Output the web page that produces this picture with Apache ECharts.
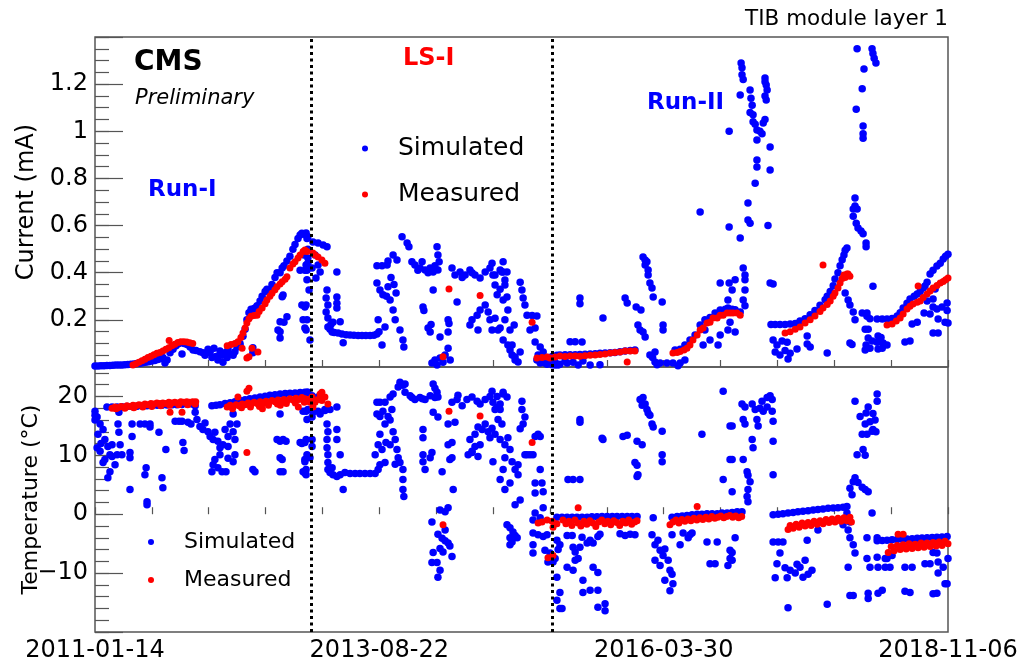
<!DOCTYPE html>
<html><head><meta charset="utf-8">
<script src="https://cdn.jsdelivr.net/npm/echarts@6/dist/echarts.min.js"></script>
<style>html,body{margin:0;padding:0;background:#fff}#chart{width:1028px;height:663px}</style>
</head><body><div id="chart"></div>
<script>
// x values are days since START_DATE
const START_DATE = '2011-01-14';
const xTickLabels = ['2011-01-14','2013-08-22','2016-03-30','2018-11-06'];
const xSpanDays = 2853;
const lsBoundaries = [722, 1528];

const simCurrent = [
[0,0.004],[10,0.004],[20,0.005],[30,0.005],[40,0.006],[50,0.006],[60,0.007],[70,0.008],[80,0.008],[90,0.009],[100,0.01],[110,0.011],[120,0.012],[130,0.013],[140,0.015],[150,0.016],[160,0.018],[170,0.02],[180,0.022],[190,0.025],[200,0.028],[210,0.032],
[217,0.035],[227,0.04],[234,0.017],[241,0.03],[251,0.06],[261,0.075],[271,0.09],[281,0.1],[291,0.055],[298,0.1],[308,0.095],[318,0.085],
[328,0.072],[338,0.07],[351,0.065],[361,0.06],[368,0.05],[378,0.075],[385,0.06],[391,0.04],[398,0.08],[405,0.045],[411,0.03],[418,0.068],[425,0.05],[428,0.02],[435,0.06],[442,0.04],[445,0.075],[452,0.055],[462,0.05],[468,0.065],[475,0.085],[485,0.09],[528,0.082],[528,0.06],
[485,0.1],[495,0.13],[502,0.16],[508,0.2],[515,0.23],[522,0.245],[528,0.245],[535,0.25],[542,0.26],[552,0.28],[559,0.3],[569,0.32],[575,0.33],[585,0.33],[592,0.35],[602,0.38],[609,0.4],[619,0.4],[626,0.42],[632,0.43],[642,0.45],[652,0.47],[662,0.5],[669,0.52],[679,0.545],[686,0.56],[692,0.567],[699,0.565],[706,0.56],[712,0.553],
[626,0.298],[629,0.305],[642,0.213],[619,0.192],[619,0.15],[619,0.123],[612,0.157],[632,0.19],[686,0.41],[692,0.263],[702,0.255],[696,0.2],[702,0.165],[712,0.462],[712,0.44],[699,0.475],[702,0.41],[709,0.37],
[706,0.568],[709,0.545],[712,0.5],[706,0.433],[709,0.41],[716,0.327],[706,0.263],[709,0.2],[706,0.157],[719,0.115],
[729,0.53],[746,0.526],[763,0.518],[776,0.51],[736,0.475],[746,0.433],[753,0.403],[726,0.42],[739,0.378],[809,0.403],
[776,0.327],[773,0.293],[779,0.263],[773,0.233],[779,0.208],[809,0.297],[809,0.27],[809,0.25],
[779,0.17],[786,0.16],[793,0.148],[800,0.146],[813,0.144],[826,0.14],[840,0.137],[853,0.136],[866,0.135],[880,0.134],[893,0.134],[906,0.134],[920,0.134],[933,0.135],[943,0.14],[950,0.15],[820,0.192],[830,0.103],[789,0.18],[796,0.19],
[943,0.43],[960,0.43],[977,0.433],[980,0.45],[997,0.475],[1010,0.454],[1027,0.553],[1044,0.526],[1050,0.51],
[943,0.356],[953,0.327],[963,0.306],[980,0.34],[987,0.284],[997,0.242],[1004,0.2],[1020,0.157],[1030,0.115],[1033,0.085],[970,0.17],[947,0.2],[960,0.093],[1007,0.314],[1000,0.35],[990,0.38],[975,0.3],
[1060,0.446],[1070,0.433],[1087,0.42],[1104,0.411],[1121,0.42],[1137,0.43],[1094,0.446],[1131,0.403],[1080,0.41],[1114,0.4],
[1144,0.51],[1147,0.475],[1151,0.446],[1147,0.411],[1131,0.327],[1097,0.255],[1100,0.24],[1114,0.165],[1121,0.148],[1124,0.18],[1154,0.127],
[1127,0.017],[1137,0.03],[1154,0.038],[1171,0.051],[1181,0.08],[1188,0.03],[1181,0.2],[1184,0.185],[1181,0.148],[1144,0.008],[1164,0.02],
[1194,0.42],[1211,0.276],
[1204,0.39],[1221,0.403],[1238,0.39],[1254,0.411],[1271,0.39],[1288,0.378],[1305,0.403],[1321,0.42],[1338,0.39],[1355,0.411],[1365,0.446],[1228,0.38],[1261,0.4],
[1328,0.44],[1331,0.39],[1365,0.403],[1378,0.403],
[1261,0.2],[1278,0.22],[1288,0.242],[1305,0.263],[1315,0.233],[1321,0.2],[1338,0.207],[1328,0.157],[1281,0.157],[1254,0.178],[1355,0.165],
[1338,0.348],[1345,0.306],[1355,0.33],[1371,0.348],[1378,0.297],
[1348,0.157],[1365,0.115],[1388,0.072],[1405,0.042],[1415,0.021],[1395,0.093],[1422,0.064],[1371,0.2],[1402,0.178],[1381,0.242],
[1361,0.403],[1371,0.369],[1365,0.284],[1388,0.157],[1381,0.093],[1395,0.051],[1405,0.03],
[1422,0.36],[1428,0.327],[1432,0.293],[1438,0.263],[1445,0.22],[1462,0.218],[1478,0.216],[1455,0.157],[1472,0.165],
[1472,0.106],[1489,0.085],[1499,0.064],[1482,0.051],
[1478,0.03],[1489,0.017],[1505,0.025],[1512,0.012],[1522,0.03],[1529,0.01],[1539,0.02],[1549,0.008],
[1499,0.02],[1515,0.04],[1529,0.045],[1545,0.05],[1555,0.051],[1572,0.052],[1589,0.052],[1606,0.052],[1622,0.053],[1639,0.054],[1656,0.055],[1673,0.056],[1689,0.058],[1706,0.059],[1723,0.06],[1739,0.062],[1756,0.065],[1773,0.068],[1790,0.07],[1806,0.072],
[1505,0.017],[1539,0.008],[1555,0.012],[1572,0.025],[1579,0.017],[1599,0.02],[1616,0.008],[1632,0.025],[1656,0.008],[1689,0.01],
[1589,0.107],[1606,0.107],[1629,0.106],[1622,0.293],[1622,0.268],[1699,0.208],[1773,0.293],[1780,0.272],[1810,0.255],[1826,0.242],
[1833,0.467],[1840,0.454],[1846,0.446],[1840,0.433],[1850,0.411],[1850,0.39],[1856,0.356],[1863,0.335],[1867,0.297],
[1897,0.276],[1900,0.178],[1900,0.157],[1816,0.178],[1823,0.157],[1833,0.148],[1840,0.127],
[1856,0.051],[1873,0.021],[1890,0.017],[1913,0.017],[1933,0.017],[1957,0.017],[1973,0.03],[1873,0.064],[1865,0.04],[1880,0.01],[1950,0.005],
[1940,0.072],[1957,0.075],[1973,0.093],[1990,0.115],[2007,0.136],[2024,0.178],[2040,0.2],[2057,0.21],[2074,0.229],[2091,0.242],[2108,0.245],[2117,0.25],[2131,0.245],[2141,0.243],[2158,0.233],
[2024,0.658],[2121,1.0],[2121,0.594],[2158,0.547],[2161,1.29],[2164,1.27],[2164,1.24],[2168,1.22],[2158,1.154],[2191,1.175],[2194,1.14],[2198,1.11],[2201,1.07],[2191,1.08],[2201,1.04],[2208,1.03],[2214,1.005],[2224,1.0],[2231,0.99],[2214,0.963],[2235,1.035],[2241,1.05],[2241,1.226],[2241,1.21],[2245,1.196],[2248,1.175],[2241,1.15],[2245,1.133],[2258,0.933],[2258,0.836],[2251,0.6],[2214,0.878],[2214,0.848],[2208,0.78],[2184,0.696],[2184,0.624],[2191,0.61],[2168,0.42],[2174,0.39],[2174,0.37],[2141,0.37],[2174,0.327],[2168,0.284],[2174,0.26],[2091,0.356],[2121,0.356],[2131,0.327],[2117,0.284],
[2040,0.157],[2057,0.115],[2084,0.093],[2117,0.157],[2124,0.19],[2141,0.148],[2034,0.093],[2091,0.136],[2258,0.356],
[2261,0.18],[2275,0.18],[2291,0.18],[2308,0.18],[2325,0.182],[2342,0.185],[2358,0.195],[2375,0.205],[2392,0.222],[2408,0.24],[2425,0.262],[2442,0.285],[2449,0.3],[2459,0.32],[2469,0.345],[2475,0.373],[2485,0.4],[2492,0.43],[2499,0.455],[2505,0.475],[2509,0.495],[2515,0.505],
[2268,0.352],[2268,0.115],[2281,0.093],[2298,0.11],[2315,0.105],[2275,0.064],[2291,0.051],[2308,0.07],[2325,0.058],[2318,0.034],[2348,0.076],[2382,0.132],[2382,0.098],[2392,0.085],[2449,0.059],
[2509,0.314],[2519,0.284],[2525,0.263],[2536,0.233],[2542,0.2],[2525,0.102],[2532,0.095],
[2549,1.35],[2599,1.35],[2602,1.33],[2606,1.31],[2612,1.29],[2572,1.264],[2566,1.18],[2546,1.094],[2569,1.022],[2569,0.99],[2569,0.97],
[2542,0.717],[2542,0.683],[2536,0.67],[2549,0.67],[2536,0.64],[2546,0.61],[2552,0.59],[2562,0.577],[2569,0.565],[2579,0.526],[2579,0.51],
[2602,0.343],[2582,0.229],[2582,0.215],[2592,0.205],[2576,0.16],[2586,0.16],[2586,0.123],[2592,0.08],[2619,0.132],[2619,0.076],[2629,0.125],[2636,0.102],
[2566,0.229],[2579,0.093],[2599,0.11],[2616,0.105],[2633,0.08],[2649,0.093],[2576,0.072],
[2616,0.204],[2633,0.204],[2649,0.204],[2666,0.206],[2683,0.216],[2693,0.23],[2703,0.25],[2716,0.27],[2726,0.288],[2740,0.3],[2750,0.31],[2760,0.32],[2770,0.335],[2783,0.36],[2793,0.395],[2803,0.41],[2816,0.428],[2827,0.44],[2837,0.458],[2845,0.47],[2853,0.478],
[2726,0.11],[2733,0.182],[2776,0.344],[2793,0.225],[2803,0.288],[2810,0.331],[2816,0.246],[2820,0.204],[2820,0.144],[2850,0.271],[2853,0.187],[2850,0.24],[2783,0.28],[2750,0.19],[2709,0.106],[2803,0.144],[2803,0.255],[2773,0.229],[2833,0.255],[2843,0.19]
];

const measCurrent = [
[127,0.008],[137,0.014],[147,0.02],[157,0.027],[167,0.033],[177,0.04],[187,0.046],[197,0.052],[207,0.058],[217,0.062],[227,0.068],[237,0.075],[247,0.082],[257,0.09],[267,0.097],[277,0.104],[287,0.107],[297,0.107],[307,0.106],[317,0.103],[327,0.1],[248,0.112],
[508,0.038],[525,0.08],[545,0.064],[515,0.044],[492,0.08],
[442,0.09],[455,0.095],[468,0.1],[478,0.107],[488,0.125],[495,0.144],[502,0.165],[508,0.187],[515,0.205],[522,0.215],[532,0.218],[542,0.22],[549,0.235],[559,0.25],[569,0.268],[575,0.284],[585,0.3],[592,0.313],[602,0.328],[609,0.34],[619,0.352],[626,0.362],[636,0.372],[642,0.383],[652,0.42],[662,0.437],[669,0.447],[679,0.462],[686,0.475],[696,0.49],[702,0.496],[709,0.49],
[729,0.484],[746,0.467],[759,0.454],[769,0.44],[736,0.475],
[1164,0.044],[1184,0.331],[1288,0.303],[1462,0.19],
[1478,0.038],[1495,0.04],[1512,0.042],[1522,0.038],[1539,0.042],[1555,0.047],[1572,0.045],[1589,0.047],[1606,0.047],[1622,0.046],[1639,0.048],[1656,0.05],[1673,0.051],[1689,0.053],[1706,0.055],[1723,0.059],[1739,0.062],[1756,0.064],[1773,0.068],[1790,0.068],[1806,0.068],[1780,0.021],
[1933,0.059],[1947,0.062],[1957,0.066],[1970,0.072],[1980,0.08],[1990,0.093],[2000,0.115],[2014,0.136],[2024,0.157],[2034,0.165],[2047,0.187],[2057,0.19],[2067,0.208],[2081,0.208],[2091,0.22],[2101,0.22],[2114,0.229],[2124,0.229],[2134,0.229],[2147,0.229],[2158,0.22],
[2308,0.144],[2325,0.15],[2342,0.16],[2358,0.17],[2375,0.187],[2392,0.2],[2408,0.216],[2425,0.235],[2435,0.25],[2449,0.265],[2459,0.28],[2469,0.3],[2475,0.314],[2485,0.335],[2492,0.356],[2499,0.375],[2505,0.39],[2515,0.395],[2519,0.395],[2525,0.385],[2509,0.38],
[2435,0.433],
[2649,0.178],[2666,0.182],[2680,0.195],[2693,0.208],[2703,0.225],[2716,0.246],[2726,0.258],[2736,0.267],[2750,0.275],[2760,0.28],[2770,0.295],[2783,0.31],[2793,0.322],[2803,0.335],[2816,0.346],[2827,0.356],[2837,0.363],[2845,0.37],[2853,0.378],
[2753,0.344]
];

const simTemp = [
[40,18.2],[57,18.2],[74,18.2],[90,18.25],[107,18.3],[124,18.3],[141,18.35],[158,18.4],[174,18.4],[191,18.45],[208,18.5],[224,18.5],[241,18.55],[258,18.6],[274,18.6],[291,18.65],[308,18.7],[325,18.7],[335,18.4],
[0,17.5],[0,16.8],[7,16.5],[17,15.3],[27,14.4],[10,13.6],[33,12.7],[43,11.5],[17,10.7],[50,10.1],[33,9.3],[57,9.8],[67,8.4],[50,7.2],[43,6.2],[27,8.8],[7,11.3],[57,11.8],[74,10.1],[0,16.0],[20,12],
[80,17.3],[77,15.3],[80,13.9],[84,11.8],[90,10.1],[124,15.3],[124,13.2],[117,10.5],[117,9.6],[117,4.2],[151,15.3],[167,15.3],[184,15.3],[184,14.8],[171,7.9],[167,6.7],[174,2.1],[174,1.6],[214,13.9],[224,6.2],[227,4.5],[237,11.0],[268,15.8],[281,15.8],[291,15.8],[294,12.2],[298,10.8],[311,15.6],[321,15.3],
[335,17.3],[341,16.1],[351,14.9],[361,14.4],[368,15.5],[378,14.0],[385,13.2],[395,12.7],[401,13.9],[411,12.4],[418,11.3],[428,11.8],[435,14.4],[445,13.2],[452,15.3],[418,10.1],[401,9.3],[411,7.9],[425,7.2],[438,7.2],[391,7.2],[395,8.4],[468,12.7],[468,10.1],[462,8.9],[445,9.5],
[462,17.0],[475,15.3],[462,14.0],[445,11.5],[528,7.6],[535,7.2],
[391,18.4],[405,18.5],[418,18.6],[435,18.8],[452,18.95],[468,19.1],[485,19.3],[502,19.45],[518,19.6],[535,19.75],[552,19.9],[569,20.05],[585,20.2],[602,20.3],[619,20.4],[636,20.5],[652,20.55],[669,20.6],[686,20.65],[702,20.7],[712,20.7],
[619,17.0],[619,12.4],[619,9.6],[619,7.2],[639,12.4],[686,12.2],[692,12.0],[696,7.2],[702,7.0],[696,17.5],[609,12.7],[629,12.7],[626,9.3],[629,7.2],[702,12.2],[702,9.3],
[706,17.5],[709,16.1],[706,12.7],[709,10.1],[702,8.9],[706,7.6],[706,6.7],
[709,20.7],[726,20.1],[746,19.9],[769,17.8],[746,17.5],[729,17.3],[753,17.0],[769,17.6],[786,17.8],[712,17.8],[726,16.5],
[726,12.7],[726,11.5],[719,9.6],[809,18.2],[776,15.3],[779,14.0],[776,12.7],[776,11.3],[779,10.1],[809,14.4],[809,12.7],[779,8.8],[820,10.1],
[779,7.6],[786,7.1],[796,6.7],[809,6.4],[820,6.7],[836,7.1],[853,6.9],[870,6.9],[886,6.9],[903,6.9],[920,6.9],[937,6.9],[947,7.6],[793,7.9],[830,4.2],
[943,19.0],[953,19.0],[970,19.0],[987,19.9],[997,20.4],[1014,21.6],[1020,22.4],[1037,22.1],[1030,21.9],[1037,20.7],[1054,20.1],[1070,19.5],[1087,19.8],[1104,19.5],[1121,20.1],[1137,19.8],[1095,19.6],[1060,19.8],
[943,17.0],[953,16.6],[963,17.5],[970,15.3],[980,16.6],[987,16.0],[993,17.8],[953,13.6],[947,11.8],[960,11.0],[973,12.2],[987,11.8],[997,14.0],[1004,12.7],[1010,11.0],[1014,9.6],[1020,8.8],[1030,7.6],[1030,5.9],[1030,4.2],[1033,3.0],[937,10.1],[953,8.4],[970,8.8],[1004,8.5],
[1097,14.4],[1097,13.0],[1097,10.1],[1097,8.9],[1104,7.6],
[1131,22.1],[1137,21.4],[1144,20.7],[1147,19.9],[1131,17.3],[1147,16.5],[1127,10.5],[1121,9.6],[1161,7.2],
[1127,-1.3],[1154,0.7],[1171,0.4],[1181,1.1],[1147,-3.4],[1161,-4.1],[1171,-4.5],[1181,-4.9],[1187,-5.4],[1154,-5.8],[1164,-6.4],[1194,-7.2],[1171,-2.7],[1127,-8.2],[1144,-8.2],[1154,-9.5],[1147,-10.7],[1131,-6.5],
[1181,11.8],[1187,9.3],[1194,12.2],[1181,15.3],[1204,15.6],[1198,4.2],[1194,9.6],
[1194,19.0],[1211,19.5],[1228,18.4],[1244,19.5],[1261,19.9],[1278,19.2],[1288,18.7],[1305,19.5],[1321,20.0],[1331,19.0],[1345,18.2],[1355,17.8],[1365,20.4],[1214,20.2],
[1254,12.7],[1271,13.6],[1281,14.8],[1295,14.4],[1305,15.3],[1315,14.0],[1321,13.0],[1288,11.8],[1271,11.5],[1261,10.7],[1248,10.1],[1338,13.6],[1328,14.6],
[1261,10.5],[1281,9.8],[1331,8.9],
[1328,20.9],[1345,20.0],[1355,18.7],[1338,17.8],[1348,16.1],[1361,15.3],[1378,19.9],[1365,20.7],
[1355,12.7],[1371,11.8],[1381,13.0],[1388,11.0],[1371,9.6],[1395,8.9],[1405,7.6],[1415,6.7],[1365,7.6],[1355,5.9],[1371,4.2],[1388,5.3],[1415,8.4],[1422,2.4],[1405,1.6],
[1378,-1.8],[1388,-2.3],[1398,-3.0],[1405,-3.6],[1388,-4.0],[1395,-4.7],[1412,-4.0],[1388,-5.2],
[1428,19.2],[1428,17.8],[1438,16.5],[1432,15.3],[1422,14.5],[1438,10.1],[1472,13.2],[1482,13.6],[1489,13.2],[1445,10.1],[1455,10.1],[1465,10.1],[1489,7.6],[1472,5.3],[1472,3.6],[1495,5.3],[1499,3.8],[1499,1.1],[1472,0.2],[1465,-1.0],[1489,-0.6],
[1465,-3.2],[1482,-3.5],[1499,-3.8],[1512,-3.5],[1465,-5.2],[1465,-6.6],
[1505,-6.1],[1522,-6.6],[1539,-7.5],[1549,-6.0],[1515,-8.1],[1532,-8.1],[1555,-5.2],[1545,-4.4],
[1545,-10.7],[1555,-13.3],[1545,-14.6],[1555,-16.0],[1562,-16.0],[1579,-9.0],[1599,-9.5],[1606,-7.8],[1632,-11.2],[1632,-13.3],[1656,-12.9],[1666,-9.0],[1682,-9.9],[1682,-12.9],[1682,-15.8],[1706,-16.4],[1706,-15.2],
[1579,-3.6],[1596,-3.6],[1599,-5.6],[1622,-5.6],[1629,-3.9],[1646,-4.9],[1656,-4.4],[1666,-4.9],[1682,-3.8],[1689,-3.4],[1616,-7.5],[1606,-6.4],
[1582,5.9],[1599,5.9],[1622,5.9],[1622,16.1],[1622,15.6],[1696,12.9],[1699,12.7],
[1545,-0.5],[1562,-0.5],[1579,-0.5],[1596,-0.5],[1612,-0.5],[1629,-0.5],[1646,-0.5],[1662,-0.45],[1679,-0.45],[1696,-0.4],[1713,-0.4],[1730,-0.4],[1746,-0.4],[1763,-0.4],[1780,-0.4],[1796,-0.4],[1813,-0.4],
[1756,-3.3],[1773,-3.6],[1790,-3.4],[1806,-3.5],[1766,13.2],[1780,13.4],[1813,12.4],[1830,11.8],[1806,8.8],[1813,8.3],[1816,6.7],[1813,6.4],
[1823,19.5],[1833,19.8],[1840,18.7],[1846,17.8],[1856,16.8],[1863,15.3],[1867,14.8],[1850,17.2],[1830,18.5],
[1897,14.1],[1897,10.1],[1897,8.9],[1867,-0.6],
[1863,-3.5],[1873,-5.2],[1883,-4.4],[1890,-6.1],[1900,-7.0],[1906,-5.9],[1917,-7.8],[1923,-9.5],[1930,-10.2],[1890,-8.7],[1873,-7.8],[1906,-11.2],[1923,-13.0],[1933,-11.8],[1930,-3.5],
[1930,-0.5],[1947,-0.4],[1964,-0.3],[1980,-0.2],[1997,-0.1],[2014,0.0],[2030,0.0],[2047,0.1],[2064,0.1],[2081,0.1],[2097,0.2],[2114,0.2],[2131,0.3],[2148,0.4],[2164,0.4],
[1967,-3.2],[1984,-4.0],[1997,-3.2],[1957,-5.2],[1990,-3.5],[2047,-4.7],[2081,-4.7],[2057,-8.4],[2074,-8.4],[2117,-8.7],[2124,-6.1],[2124,-7.5],
[2030,13.6],[2101,20.9],[2124,15.0],[2124,9.3],[2101,5.9],[2131,3.8],
[2131,15.0],[2131,9.3],[2141,-4.0],[2131,-6.5],[2131,-7.8],
[2164,18.7],[2174,18.2],[2168,16.1],[2174,15.3],[2168,9.3],[2181,7.2],[2184,6.6],[2191,5.5],[2184,4.2],[2181,3.0],[2184,2.1],[2198,12.7],[2201,11.3],[2198,18.7],[2208,17.8],[2214,16.1],[2218,15.0],[2224,18.0],[2235,17.5],[2248,18.2],[2231,19.2],[2248,19.8],[2258,20.1],[2265,19.5],[2265,17.5],[2268,15.8],[2268,12.4],[2268,6.7],
[2268,-0.1],[2285,0.0],[2301,0.1],[2318,0.2],[2335,0.3],[2351,0.4],[2368,0.5],[2385,0.6],[2402,0.7],[2418,0.8],[2435,0.9],[2452,1.0],[2469,1.05],[2485,1.1],[2502,1.2],[2515,1.3],
[2268,-4.7],[2285,-4.7],[2301,-4.7],[2291,-6.6],[2281,-8.4],[2275,-10.8],[2315,-10.8],[2308,-9.1],[2325,-9.5],[2342,-10.0],[2358,-9.0],[2368,-10.7],[2385,-10.2],[2398,-9.5],[2348,-8.5],[2375,-7.8],[2318,-15.9],[2382,-4.4],[2418,-2.7],[2449,-15.3],
[2502,-1.8],[2515,0.2],[2519,-0.5],[2525,-1.3],[2519,-2.7],[2525,-4.0],[2536,-5.2],[2542,-6.6],[2519,-9.0],[2525,-13.8],[2536,-13.8],
[2525,4.4],[2536,5.5],[2542,6.2],[2552,5.4],[2566,4.6],[2576,4.2],[2586,3.8],[2532,3.3],
[2542,19.2],[2559,16.6],[2566,13.6],[2549,10.1],[2569,11.0],[2576,10.0],[2582,13.6],[2576,15.3],[2586,18.2],[2579,17.2],[2592,15.7],[2599,14.1],[2602,14.4],[2609,16.0],[2602,17.1],[2616,19.2],[2616,20.4],[2612,14.0],
[2582,-4.0],[2599,0.2],[2582,-7.5],[2592,-9.0],[2586,-13.4],[2586,-14.3],[2616,-4.0],[2616,-7.3],[2619,-13.4],[2633,-12.9],[2619,-9.0],[2643,-9.0],[2659,-9.0],[2643,-7.5],[2649,-7.5],
[2616,-4.5],[2633,-4.45],[2649,-4.4],[2666,-4.35],[2683,-4.3],[2700,-4.25],[2716,-4.2],[2733,-4.15],[2750,-4.1],[2766,-4.05],[2783,-4.0],[2800,-3.95],[2816,-3.9],[2833,-3.85],[2850,-3.8],
[2666,-7.0],[2733,-9.0],[2726,-13.3],[2793,-8.4],[2816,-6.6],[2820,-8.1],[2820,-10.0],[2816,-13.4],[2853,-7.5],[2850,-11.8],[2837,-9.0],[2709,-9.0],[2709,-13.1],[2776,-8.4],[2803,-6.5],[2803,-13.5],[2843,-11.8]
];

const measTemp = [
[57,18.0],[67,18.2],[77,18.1],[87,18.3],[97,18.2],[107,18.4],[117,18.3],[127,18.5],[137,18.4],[147,18.6],[157,18.5],[167,18.7],[177,18.6],[187,18.8],[197,18.7],[207,18.9],[217,18.8],[227,18.9],[237,18.8],[247,19.0],[257,18.9],[267,19.0],[277,18.9],[287,19.1],[297,19.0],[307,19.1],[317,19.0],[327,19.1],[337,19.1],
[70,17.9],[100,18.0],[130,18.1],[160,18.2],[190,18.3],[220,18.4],[250,18.5],[280,18.6],[310,18.6],[335,18.7],
[251,17.3],[291,17.3],
[442,18.2],[452,18.5],[462,18.3],[472,18.6],[482,18.4],[492,18.7],[502,18.6],[512,18.9],[522,18.7],[532,19.0],[542,18.8],[552,19.1],[562,18.9],[572,19.2],[582,19.0],[592,19.3],[602,19.1],[612,19.4],[622,19.2],[632,19.5],[642,19.3],[652,19.6],[662,19.4],[672,19.7],[682,19.5],[692,19.8],[702,19.6],[712,19.5],
[460,17.9],[490,18.1],[520,18.2],[550,18.3],[580,18.5],[610,18.7],[640,18.8],[670,18.9],[700,19.0],[680,18.2],[620,18.5],[560,17.9],
[478,19.9],[508,20.9],[515,21.4],[508,10.5],
[719,19.0],[726,19.9],[736,19.0],[746,19.5],[753,20.4],[759,19.3],[769,19.9],[779,18.7],[729,18.2],[759,20.7],
[1184,17.5],[1288,16.7],[1164,-1.8],[1462,12.2],
[1482,-1.5],[1495,-1.3],[1512,-1.0],[1529,-1.2],[1545,-1.6],[1515,-7.4],[1532,-7.0],[1532,-2.2],
[1565,-1.0],[1575,-1.6],[1585,-1.2],[1595,-1.9],[1605,-1.0],[1615,-1.5],[1625,-2.0],[1635,-1.2],[1645,-1.7],[1655,-1.1],[1665,-1.5],[1675,-2.1],[1685,-1.3],[1695,-1.0],[1705,-1.6],[1715,-1.2],[1725,-1.8],[1735,-1.1],[1745,-1.4],[1755,-1.9],[1765,-1.2],[1775,-1.5],[1785,-1.0],[1795,-1.7],[1805,-1.3],[1813,-1.1],
[1616,1.1],
[1923,-1.8],[1933,-1.3],[1943,-1.0],[1953,-1.5],[1963,-0.9],[1973,-1.2],[1983,-0.8],[1993,-1.1],[2003,-0.7],[2013,-1.0],[2023,-0.6],[2033,-0.9],[2043,-0.5],[2053,-0.8],[2063,-0.4],[2073,-0.7],[2083,-0.5],[2093,-0.3],[2103,-0.6],[2113,-0.4],[2123,-0.2],[2133,-0.5],[2143,-0.3],[2153,-0.6],[2163,-0.4],
[2014,1.3],
[2318,-2.6],[2325,-1.9],[2335,-2.4],[2345,-1.7],[2355,-2.2],[2365,-1.5],[2375,-2.0],[2385,-1.4],[2395,-1.9],[2405,-1.2],[2415,-1.7],[2425,-1.1],[2435,-1.6],[2445,-0.9],[2455,-1.4],[2465,-0.8],[2475,-1.3],[2485,-0.7],[2495,-1.2],[2505,-0.6],[2515,-1.1],[2525,-0.5],[2530,-1.3],
[2653,-6.5],[2663,-5.5],[2673,-6.2],[2683,-5.3],[2693,-6.0],[2703,-5.2],[2713,-5.9],[2723,-5.0],[2733,-5.8],[2743,-5.1],[2753,-5.7],[2763,-4.9],[2773,-5.6],[2783,-4.9],[2793,-5.5],[2803,-4.8],[2813,-5.4],[2823,-4.7],[2833,-5.3],[2843,-4.6],[2853,-5.0],
[2686,-3.4],[2703,-3.4]
];

const FONT = 'DejaVu Sans';
const AX = '#555';
const BLUE = '#0000ff', RED = '#ff0000';
const xStep = xSpanDays / 15;

function xLabel(v) {
  const i = Math.round(v / xStep);
  if (Math.abs(v - i * xStep) > 1 || i % 5 !== 0) return '';
  return xTickLabels[i / 5] || '';
}
function xAxisDef(grid, labels) {
  return {
    type: 'value', gridIndex: grid, min: 0, max: xSpanDays, interval: xStep,
    axisLine: { show: false }, splitLine: { show: false },
    axisTick: { inside: true, length: 7, lineStyle: { color: AX, width: 1.2 } },
    axisLabel: { show: labels, formatter: xLabel, margin: 7, color: '#000', fontFamily: FONT, fontSize: 24, showMinLabel: true, showMaxLabel: true }
  };
}
function fmtNum(v) {
  const r = parseFloat(v.toFixed(2));
  return r < 0 ? '\u2212' + Math.abs(r) : String(r);
}
const lsLine = {
  silent: true, symbol: 'none', label: { show: false }, animation: false,
  lineStyle: { color: '#000', width: 3, type: [3, 3.5] },
  data: lsBoundaries.map(d => ({ xAxis: d }))
};

const option = {
  animation: false,
  grid: [
    { left: 95, right: 80, top: 37, height: 330, show: true, borderColor: AX, borderWidth: 1.5, backgroundColor: 'transparent' },
    { left: 95, right: 80, top: 367, height: 265, show: true, borderColor: AX, borderWidth: 1.5, backgroundColor: 'transparent' }
  ],
  xAxis: [xAxisDef(0, false), xAxisDef(1, true)],
  yAxis: [
    { type: 'value', gridIndex: 0, position: 'left', min: 0, max: 1.4, interval: 0.2,
      name: 'Current (mA)', nameLocation: 'middle', nameGap: 56, nameMoveOverlap: false,
      nameTextStyle: { fontFamily: FONT, fontSize: 24, color: '#000' },
      axisLine: { show: false }, splitLine: { show: false },
      axisTick: { inside: true, length: 28, lineStyle: { color: AX, width: 1.2 } },
      axisLabel: { margin: 7, color: '#000', fontFamily: FONT, fontSize: 24,
        formatter: v => (v <= 0 || v >= 1.39) ? '' : fmtNum(v) } },
    { type: 'value', gridIndex: 0, position: 'left', min: 0, max: 1.4, interval: 0.05,
      axisLine: { show: false }, splitLine: { show: false }, axisLabel: { show: false },
      axisTick: { inside: true, length: 14, lineStyle: { color: AX, width: 1.2 } } },
    { type: 'value', gridIndex: 1, position: 'left', min: -20, max: 25, interval: 10,
      name: 'Temperature (\u00B0C)', nameLocation: 'middle', nameGap: 53, nameMoveOverlap: false,
      nameTextStyle: { fontFamily: FONT, fontSize: 22, color: '#000' },
      axisLine: { show: false }, splitLine: { show: false },
      axisTick: { inside: true, length: 28, lineStyle: { color: AX, width: 1.2 } },
      axisLabel: { margin: 7, color: '#000', fontFamily: FONT, fontSize: 24,
        formatter: v => (v <= -20 || v > 20) ? '' : fmtNum(v) } },
    { type: 'value', gridIndex: 1, position: 'left', min: -20, max: 25, interval: 2,
      axisLine: { show: false }, splitLine: { show: false }, axisLabel: { show: false },
      axisTick: { inside: true, length: 14, lineStyle: { color: AX, width: 1.2 } } }
  ],
  legend: [
    { orient: 'vertical', left: 357, top: 131, itemGap: 21, itemWidth: 56, itemHeight: 6, icon: 'circle',
      data: ['Simulated', 'Measured'], selectedMode: false,
      textStyle: { fontFamily: FONT, fontSize: 25, color: '#000' } },
    { orient: 'vertical', left: 143, top: 526, itemGap: 16, itemWidth: 56, itemHeight: 6, icon: 'circle',
      data: ['Simulated', 'Measured'], selectedMode: false,
      textStyle: { fontFamily: FONT, fontSize: 22, color: '#000' } }
  ],
  graphic: [
    { type: 'text', right: 80, top: 8, style: { text: 'TIB module layer 1', font: '21.5px "DejaVu Sans"', fill: '#000' } },
    { type: 'text', left: 134, top: 49, style: { text: 'CMS', font: 'bold 28px "DejaVu Sans"', fill: '#000' } },
    { type: 'text', left: 135, top: 88, style: { text: 'Preliminary', font: 'italic 21px "DejaVu Sans"', fill: '#000' } },
    { type: 'text', left: 403, top: 47, style: { text: 'LS-I', font: 'bold 24px "DejaVu Sans"', fill: RED } },
    { type: 'text', left: 148, top: 179, style: { text: 'Run-I', font: 'bold 23px "DejaVu Sans"', fill: BLUE } },
    { type: 'text', left: 647, top: 92, style: { text: 'Run-II', font: 'bold 23px "DejaVu Sans"', fill: BLUE } }
  ],
  series: [
    { name: 'Simulated', type: 'scatter', xAxisIndex: 0, yAxisIndex: 0, data: simCurrent, symbolSize: 7.5,
      itemStyle: { color: BLUE, opacity: 1 }, markLine: lsLine, z: 2 },
    { name: 'Measured', type: 'scatter', xAxisIndex: 0, yAxisIndex: 0, data: measCurrent, symbolSize: 7,
      itemStyle: { color: RED, opacity: 1 }, z: 3 },
    { name: 'Simulated', type: 'scatter', xAxisIndex: 1, yAxisIndex: 2, data: simTemp, symbolSize: 7.5,
      itemStyle: { color: BLUE, opacity: 1 }, markLine: lsLine, z: 2 },
    { name: 'Measured', type: 'scatter', xAxisIndex: 1, yAxisIndex: 2, data: measTemp, symbolSize: 7,
      itemStyle: { color: RED, opacity: 1 }, z: 3 }
  ]
};
const chart = echarts.init(document.getElementById('chart'), null, { renderer: 'canvas' });
chart.setOption(option);
</script>
</body></html>
